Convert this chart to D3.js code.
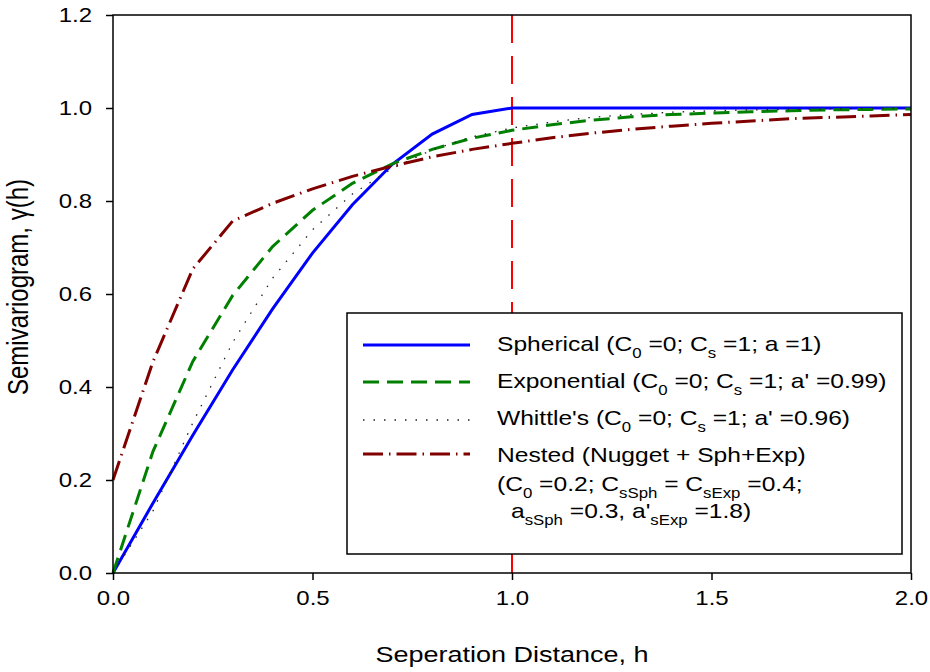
<!DOCTYPE html>
<html>
<head>
<meta charset="utf-8">
<script src="https://cdn.jsdelivr.net/npm/d3@7"></script>
<style>
  body { margin: 0; background: #fff; }
  svg { display: block; }
  text { font-family: "Liberation Sans", Arial, sans-serif; fill: #000; }
</style>
</head>
<body>
<div id="chart"></div>
<script>
// separation distance h
var hVals = [0, 0.1, 0.2, 0.3, 0.4, 0.5, 0.6, 0.7, 0.8, 0.9, 1.0,
             1.1, 1.2, 1.3, 1.4, 1.5, 1.6, 1.7, 1.8, 1.9, 2.0];

// semivariogram values
var spherical   = [0, 0.150, 0.296, 0.437, 0.568, 0.688, 0.792, 0.879, 0.944, 0.986, 1.000,
                   1.000, 1.000, 1.000, 1.000, 1.000, 1.000, 1.000, 1.000, 1.000, 1.000];
var exponential = [0, 0.261, 0.455, 0.597, 0.702, 0.780, 0.838, 0.880, 0.911, 0.935, 0.952,
                   0.964, 0.974, 0.981, 0.986, 0.989, 0.992, 0.994, 0.996, 0.997, 0.998];
var whittle     = [0, 0.133, 0.323, 0.496, 0.634, 0.738, 0.815, 0.870, 0.910, 0.938, 0.957,
                   0.970, 0.980, 0.986, 0.991, 0.994, 0.996, 0.997, 0.998, 0.999, 0.999];
var nested      = [0.200, 0.454, 0.654, 0.757, 0.795, 0.826, 0.853, 0.875, 0.895, 0.911, 0.924,
                   0.936, 0.946, 0.954, 0.961, 0.967, 0.972, 0.977, 0.980, 0.983, 0.986];

var xTicks = [0, 0.5, 1.0, 1.5, 2.0];
var yTicks = [0, 0.2, 0.4, 0.6, 0.8, 1.0, 1.2];
var rangeLine = 1.0;

var W = 930, H = 672;
var margin = {top: 15, right: 19, bottom: 99, left: 113};
var sx = 1.2; // text in the picture is stretched horizontally

var svg = d3.select("#chart").append("svg")
    .attr("width", W).attr("height", H);

var x = d3.scaleLinear().domain([0, 2]).range([margin.left, W - margin.right]);
var y = d3.scaleLinear().domain([0, 1.2]).range([H - margin.bottom, margin.top]);

// x axis
var gx = svg.append("g")
    .attr("transform", "translate(0," + y(0) + ")")
    .call(d3.axisBottom(x).tickValues(xTicks).tickFormat(d3.format(".1f"))
        .tickSize(7).tickPadding(11));
gx.select(".domain").remove();
gx.selectAll(".tick line").attr("stroke", "#000").attr("stroke-width", 1.5);
gx.selectAll(".tick text")
    .style("font-size", "20px")
    .attr("transform", "scale(" + sx + ",1)");

// y axis
var gy = svg.append("g")
    .attr("transform", "translate(" + x(0) + ",0)")
    .call(d3.axisLeft(y).tickValues(yTicks).tickFormat(d3.format(".1f"))
        .tickSize(7).tickPadding(14));
gy.select(".domain").remove();
gy.selectAll(".tick line").attr("stroke", "#000").attr("stroke-width", 1.5);
gy.selectAll(".tick text")
    .style("font-size", "20px")
    .attr("x", 0)
    .attr("transform", "translate(-21,0) scale(" + sx + ",1)");

// red dashed line at the range
svg.append("line")
    .attr("x1", x(rangeLine)).attr("x2", x(rangeLine))
    .attr("y1", y(1.2)).attr("y2", y(0))
    .attr("stroke", "#ff0000")
    .attr("stroke-width", 2)
    .attr("stroke-dasharray", "28,13");

// series
var series = [
    {name: "sph", values: spherical,   color: "#0000ff", width: 3,   dash: null},
    {name: "exp", values: exponential, color: "#008000", width: 3,   dash: "16,8"},
    {name: "whi", values: whittle,     color: "#222222", width: 1.3, dash: "1.5,9"},
    {name: "nes", values: nested,      color: "#800000", width: 3,   dash: "20,6,1.5,6"}
];

var line = d3.line()
    .x(function (d, i) { return x(hVals[i]); })
    .y(function (d) { return y(d); });

series.forEach(function (s) {
    svg.append("path")
        .datum(s.values)
        .attr("fill", "none")
        .attr("stroke", s.color)
        .attr("stroke-width", s.width)
        .attr("stroke-dasharray", s.dash)
        .attr("d", line);
});

// plot frame
svg.append("rect")
    .attr("x", x(0)).attr("y", y(1.2))
    .attr("width", x(2) - x(0)).attr("height", y(0) - y(1.2))
    .attr("fill", "none")
    .attr("stroke", "#000")
    .attr("stroke-width", 1.5);

// axis titles
svg.append("text")
    .attr("transform", "translate(" + x(1) + ",662) scale(" + sx + ",1)")
    .attr("text-anchor", "middle")
    .style("font-size", "22.5px")
    .text("Seperation Distance, h");

svg.append("text")
    .attr("transform", "translate(28,287) scale(" + sx + ",1) rotate(-90)")
    .attr("text-anchor", "middle")
    .style("font-size", "24px")
    .text("Semivariogram, \u03b3(h)");

// legend
var legend = svg.append("g");
legend.append("rect")
    .attr("x", 347).attr("y", 313)
    .attr("width", 555).attr("height", 241)
    .attr("fill", "#fff")
    .attr("stroke", "#000")
    .attr("stroke-width", 1.5);

var rowsY = [345, 382, 420, 454];
series.forEach(function (s, i) {
    legend.append("line")
        .attr("x1", 363).attr("x2", 470)
        .attr("y1", rowsY[i]).attr("y2", rowsY[i])
        .attr("stroke", s.color)
        .attr("stroke-width", s.width)
        .attr("stroke-dasharray", s.dash);
});

// each legend line: list of [text, isSub]
var legendLines = [
    {x: 497, y: 351, parts: [["Spherical (C", 0], ["0", 1], [" =0; C", 0], ["s", 1], [" =1; a =1)", 0]]},
    {x: 497, y: 388, parts: [["Exponential (C", 0], ["0", 1], [" =0; C", 0], ["s", 1], [" =1; a' =0.99)", 0]]},
    {x: 497, y: 425, parts: [["Whittle's (C", 0], ["0", 1], [" =0; C", 0], ["s", 1], [" =1; a' =0.96)", 0]]},
    {x: 497, y: 462, parts: [["Nested (Nugget + Sph+Exp)", 0]]},
    {x: 497, y: 491, parts: [["(C", 0], ["0", 1], [" =0.2; C", 0], ["sSph", 1], [" = C", 0], ["sExp", 1], [" =0.4;", 0]]},
    {x: 511, y: 518, parts: [["a", 0], ["sSph", 1], [" =0.3, a'", 0], ["sExp", 1], [" =1.8)", 0]]}
];

legendLines.forEach(function (ln) {
    var t = legend.append("text")
        .attr("transform", "translate(" + ln.x + "," + ln.y + ") scale(" + sx + ",1)")
        .style("font-size", "20.5px")
        .attr("xml:space", "preserve");
    var shifted = false;
    ln.parts.forEach(function (p) {
        var ts = t.append("tspan").text(p[0]);
        if (p[1]) {
            ts.style("font-size", "14px").attr("dy", shifted ? 0 : 7);
            shifted = true;
        } else {
            if (shifted) ts.attr("dy", -7);
            shifted = false;
        }
    });
});
</script>
</body>
</html>
